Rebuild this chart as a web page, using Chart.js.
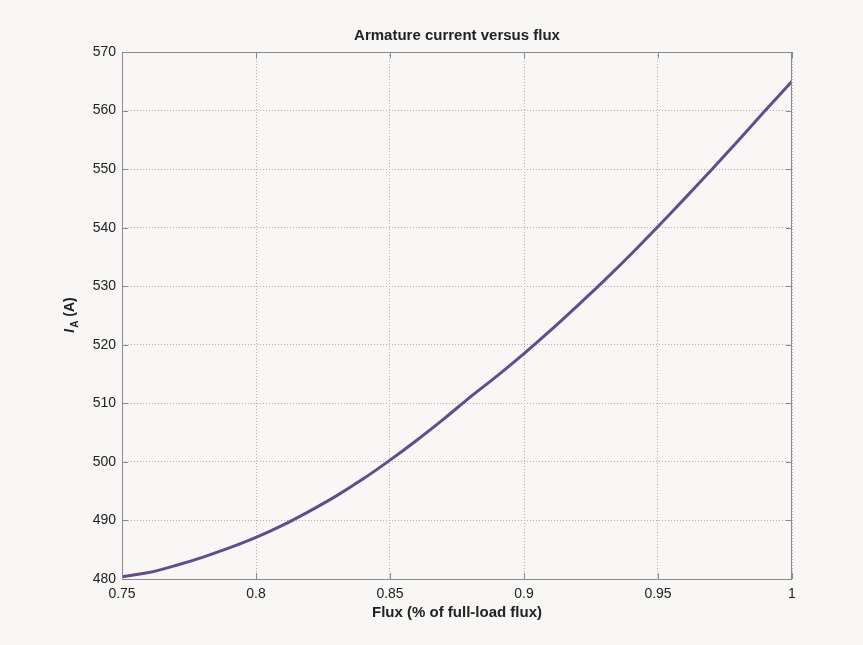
<!DOCTYPE html>
<html lang="en">
<head>
    <meta charset="UTF-8">
    <title>Armature current versus flux</title>
    <script src="https://cdn.jsdelivr.net/npm/chart.js"></script>
    <style>
        html, body { margin: 0; padding: 0; background: #f8f7f5; }
        #wrap { width: 863px; height: 645px; }
    </style>
</head>
<body>
    <div id="wrap"><canvas id="myChart" width="863" height="645"></canvas></div>
<script>
    // flux (fraction of full-load flux) and armature current
    const flux = [0.75, 0.76, 0.77, 0.78, 0.79, 0.80, 0.81, 0.82, 0.83, 0.84, 0.85, 0.86, 0.87,
                  0.88, 0.89, 0.90, 0.91, 0.92, 0.93, 0.94, 0.95, 0.96, 0.97, 0.98, 0.99, 1.00];
    const current = [480.4, 481.1, 482.3, 483.7, 485.3, 487.1, 489.2, 491.6, 494.2, 497.1, 500.3, 503.7, 507.3,
                     511.1, 514.7, 518.5, 522.5, 526.7, 531.0, 535.5, 540.2, 545.0, 549.9, 554.9, 560.0, 565.0];
    const xTicks = [0.75, 0.8, 0.85, 0.9, 0.95, 1];
    const yTicks = [480, 490, 500, 510, 520, 530, 540, 550, 560, 570];
    const titleText = 'Armature current versus flux';

    const font = "'Liberation Sans', Arial, sans-serif";

    // box round the plot, little inward ticks, title over the plot, and the I_A label
    const frame = {
        id: 'frame',
        afterDraw(chart) {
            const { ctx, chartArea: a, scales } = chart;
            ctx.save();
            ctx.strokeStyle = '#8a8a8a';
            ctx.lineWidth = 1;
            ctx.strokeRect(a.left + 0.5, a.top + 0.5, a.right - a.left - 1, a.bottom - a.top);
            ctx.beginPath();
            xTicks.forEach(v => {
                const x = Math.round(scales.x.getPixelForValue(v)) + 0.5;
                ctx.moveTo(x, a.bottom); ctx.lineTo(x, a.bottom - 6);
                ctx.moveTo(x, a.top); ctx.lineTo(x, a.top + 6);
            });
            yTicks.forEach(v => {
                const y = Math.round(scales.y.getPixelForValue(v)) + 0.5;
                ctx.moveTo(a.left, y); ctx.lineTo(a.left + 6, y);
                ctx.moveTo(a.right, y); ctx.lineTo(a.right - 6, y);
            });
            ctx.stroke();

            ctx.fillStyle = '#222';
            ctx.textAlign = 'center';
            ctx.textBaseline = 'middle';
            ctx.font = "bold 15px " + font;
            ctx.fillText(titleText, (a.left + a.right) / 2, 36);

            ctx.textAlign = 'left';
            ctx.translate(70, (a.top + a.bottom) / 2);
            ctx.rotate(-Math.PI / 2);
            ctx.font = "italic bold 14px " + font;
            const w1 = ctx.measureText('I').width;
            ctx.font = "bold 10px " + font;
            const w2 = ctx.measureText('A').width;
            ctx.font = "bold 14px " + font;
            const w3 = ctx.measureText(' (A)').width;
            let x0 = -(w1 + w2 + w3) / 2;
            ctx.font = "italic bold 14px " + font;
            ctx.fillText('I', x0, 0);
            ctx.font = "bold 10px " + font;
            ctx.fillText('A', x0 + w1 + 1, 5);
            ctx.font = "bold 14px " + font;
            ctx.fillText(' (A)', x0 + w1 + w2 + 1, 0);
            ctx.restore();
        }
    };

    Chart.defaults.font.family = font;
    Chart.defaults.color = '#222';

    new Chart(document.getElementById('myChart'), {
        type: 'line',
        data: {
            datasets: [{
                data: flux.map((f, i) => ({ x: f, y: current[i] })),
                borderColor: '#634c8e',
                borderWidth: 3,
                pointRadius: 0,
                tension: 0.3,
                fill: false
            }]
        },
        options: {
            responsive: false,
            animation: false,
            layout: { padding: { left: 0, right: 71, top: 52, bottom: 0 } },
            plugins: {
                legend: { display: false },
                tooltip: { enabled: false },
                title: { display: false }
            },
            scales: {
                x: {
                    type: 'linear',
                    min: 0.75,
                    max: 1,
                    afterBuildTicks: s => { s.ticks = xTicks.map(v => ({ value: v })); },
                    afterFit: s => { s.height = 66; },
                    ticks: { font: { size: 14 }, padding: 7, maxRotation: 0, callback: v => String(v) },
                    grid: { color: '#b0b0b0', drawTicks: false },
                    border: { display: false, dash: [1, 2] },
                    title: {
                        display: true,
                        text: 'Flux (% of full-load flux)',
                        font: { size: 15, weight: 'bold' },
                        padding: { top: 0, bottom: 23 }
                    }
                },
                y: {
                    min: 480,
                    max: 570,
                    afterBuildTicks: s => { s.ticks = yTicks.map(v => ({ value: v })); },
                    afterFit: s => { s.width = 122; },
                    ticks: { font: { size: 14 }, padding: 6 },
                    grid: { color: '#b0b0b0', drawTicks: false },
                    border: { display: false, dash: [1, 2] }
                }
            }
        },
        plugins: [frame]
    });
</script>
</body>
</html>
